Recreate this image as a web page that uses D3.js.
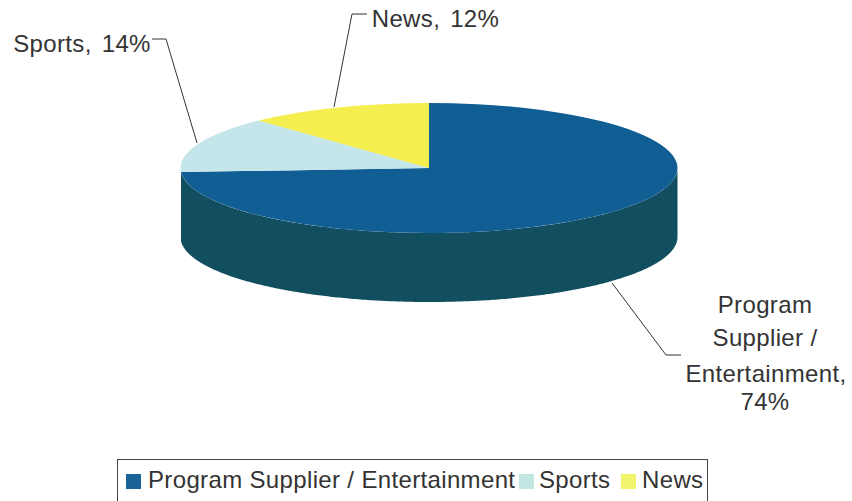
<!DOCTYPE html>
<html>
<head>
<meta charset="utf-8">
<script src="https://cdn.jsdelivr.net/npm/d3@7"></script>
<style>
html,body{margin:0;padding:0;background:#fff}
svg{display:block}
text{font-family:"Liberation Sans",Arial,sans-serif;fill:#333;font-size:24px;letter-spacing:.35px}
</style>
</head>
<body>
<svg id="chart" width="852" height="501"></svg>
<script>
// Programming share by category
const categories = ["Program Supplier / Entertainment", "Sports", "News"];
const shares = [74, 14, 12];
const topColors = ["#115e95", "#c4e5ea", "#f4ee4e"];
const sideColor = "#114e5f";
const legendSwatches = ["#1a6396", "#c2e6e2", "#f2f56b"];

const svg = d3.select("#chart");
const cx = 429, cy = 168, rx = 248.5, ry = 65, depth = 69;

const pieAngles = d3.pie().sort(null).value(d => d)(shares);

// Maps an angle measured clockwise from twelve o'clock onto the tilted rim
const rim = (a, dy = 0) => [cx + rx * Math.sin(a), cy + dy - ry * Math.cos(a)];

// Visible wall: only the front half of the rim, clipped to the blue slice
const blue = pieAngles[0];
const from = Math.max(blue.startAngle, Math.PI / 2);
const to = Math.min(blue.endAngle, Math.PI * 1.5);
const angles = d3.range(from, to, 0.01).concat(to);
const wall = d3.line()(angles.map(a => rim(a)).concat(angles.slice().reverse().map(a => rim(a, depth))));
svg.append("path").attr("d", wall + "Z").attr("fill", sideColor);

// Top face: unit d3.arc slices squashed into the ellipse
const arc = d3.arc().innerRadius(0).outerRadius(1);
svg.append("g")
  .attr("transform", `translate(${cx},${cy}) scale(${rx},${ry})`)
  .selectAll("path")
  .data(pieAngles)
  .join("path")
  .attr("d", arc)
  .attr("fill", (d, i) => topColors[i]);

// Leader lines
const leaderData = [
  [[612, 283], [666, 355], [681, 355]],
  [[197, 143], [166, 39], [152, 39]],
  [[334, 107], [352, 14], [367, 14]]
];
svg.append("g").selectAll("path").data(leaderData).join("path")
  .attr("d", d3.line())
  .attr("fill", "none").attr("stroke", "#333").attr("stroke-width", 1);

// Data labels
const labelRows = [
  {x: 82, y: 52, t: "Sports, 14%", gap: 3},
  {x: 435.5, y: 27, t: "News, 12%", gap: 3},
  {x: 765, y: 313, t: "Program", gap: 0},
  {x: 765, y: 346, t: "Supplier /", gap: 0},
  {x: 766, y: 382, t: "Entertainment,", gap: 0},
  {x: 765, y: 410, t: "74%", gap: 0}
];
svg.append("g").selectAll("text").data(labelRows).join("text")
  .attr("x", d => d.x).attr("y", d => d.y)
  .attr("text-anchor", "middle")
  .style("word-spacing", d => d.gap + "px")
  .text(d => d.t);

// Legend; the frame runs past the lower edge of the canvas
const swatchX = [126, 519, 621];
const labelX = [148, 539, 642];
svg.append("rect").attr("x", 117.5).attr("y", 459.5).attr("width", 590).attr("height", 60)
  .attr("fill", "#fff").attr("stroke", "#444");
const keys = svg.append("g").selectAll("g").data(categories).join("g");
keys.append("rect")
  .attr("x", (d, i) => swatchX[i]).attr("y", 474).attr("width", 15).attr("height", 15)
  .attr("fill", (d, i) => legendSwatches[i]);
keys.append("text")
  .attr("x", (d, i) => labelX[i]).attr("y", 488)
  .text(d => d);
</script>
</body>
</html>
